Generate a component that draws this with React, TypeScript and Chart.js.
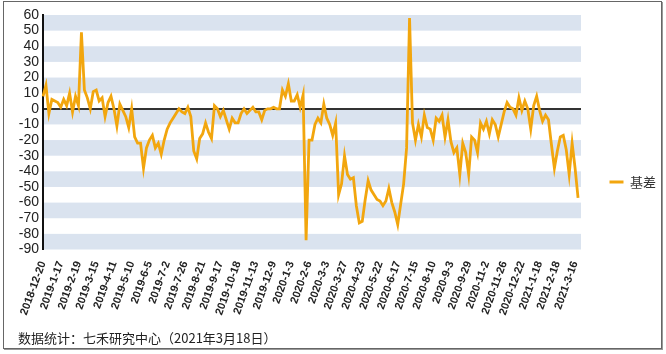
import React, { useEffect, useRef } from "react";
import { Chart, registerables } from "chart.js";

Chart.register(...registerables);

// ---- data ----
const seriesName = "基差";
const footerText = "数据统计：七禾研究中心（2021年3月18日）";

const tickDates = [
  "2018-12-20", "2019-1-17", "2019-2-19", "2019-3-15", "2019-4-11", "2019-5-10",
  "2019-6-5", "2019-7-2", "2019-7-26", "2019-8-21", "2019-9-17", "2019-10-18",
  "2019-11-13", "2019-12-9", "2020-1-3", "2020-2-6", "2020-3-3", "2020-3-27",
  "2020-4-23", "2020-5-22", "2020-6-17", "2020-7-15", "2020-8-10", "2020-9-3",
  "2020-9-29", "2020-11-2", "2020-11-26", "2020-12-22", "2021-1-18", "2021-2-18",
  "2021-3-16",
];
const pointsPerTick = 6;
const axisSlots = 183;

const yTicks = [60, 50, 40, 30, 20, 10, 0, -10, -20, -30, -40, -50, -60, -70, -80, -90];

// basis values, sampled every ~3 trading days
const basisFrom20181220 = [
  8, 15, -3, 6, 5, 4,
  1, 6, 2, 10, -2, 8,
  2, 49, 12, 7, 0, 11,
  12, 5, 7, -5, 4, 8,
  0, -11, 3, -1, -5, -12,
  0, -18, -22, -22, -38, -25,
];
const basisFrom20190605 = [
  -20, -17, -25, -22, -29, -20,
  -13, -9, -6, -3, 0, -2,
  -3, 1, -5, -27, -32, -19,
  -16, -9, -15, -19, 2, 0,
  -5, -1, -7, -13, -6, -9,
  -9, -3, 0, -3, -1, 1,
];
const basisFrom20191113 = [
  -2, -2, -7, -1, 0, 0,
  1, 0, 0, 12, 8, 16,
  5, 5, 9, 1, 9, -84,
  -20, -20, -10, -6, -9, 3,
  -6, -10, -17, -9, -55, -48,
  -30, -42, -45, -44, -62, -73,
];
const basisFrom20200423 = [
  -72, -58, -46, -52, -55, -58,
  -59, -62, -59, -51, -60, -66,
  -74, -61, -48, -25, 58, -9,
  -20, -10, -18, -4, -12, -13,
  -20, -6, -8, -4, -18, -7,
  -21, -28, -25, -42, -22, -28,
];
const basisFrom20200929 = [
  -42, -18, -20, -28, -9, -13,
  -8, -16, -7, -10, -18, -10,
  -2, 4, 1, 0, -4, 7,
  -1, 5, 0, -13, 2, 8,
  -1, -8, -4, -7, -23, -38,
  -27, -18, -17, -26, -42, -22,
  -38, -57,
];

// ---- styles ----
const LINE_COLOR = "rgb(242,166,14)";
const BAND_COLOR = "#dae3ef";

export default function App() {
  const ref = useRef<HTMLCanvasElement>(null);

  useEffect(() => {
    const values = [
      ...basisFrom20181220,
      ...basisFrom20190605,
      ...basisFrom20191113,
      ...basisFrom20200423,
      ...basisFrom20200929,
    ];
    const labels = Array.from({ length: axisSlots }, (_, i) =>
      i % pointsPerTick === 0 && tickDates[i / pointsPerTick] ? tickDates[i / pointsPerTick] : ""
    );
    const yMin = yTicks[yTicks.length - 1];
    const yMax = yTicks[0];
    const yStep = yTicks[0] - yTicks[1];

    const bandPlugin = {
      id: "bands",
      beforeDraw(chart: any) {
        const { ctx, chartArea, scales } = chart;
        const y = scales.y;
        ctx.save();
        ctx.fillStyle = BAND_COLOR;
        for (let v = yMin; v < yMax; v += yStep * 2) {
          const top = y.getPixelForValue(v + yStep);
          const bottom = y.getPixelForValue(v);
          ctx.fillRect(chartArea.left, top, chartArea.right - chartArea.left, bottom - top);
        }
        ctx.restore();
      },
    };

    const chart = new Chart(ref.current as HTMLCanvasElement, {
      type: "line",
      data: {
        labels,
        datasets: [
          {
            label: seriesName,
            data: values,
            borderColor: LINE_COLOR,
            backgroundColor: LINE_COLOR,
            borderWidth: 2.8,
            pointRadius: 0,
            tension: 0,
            fill: false,
          },
        ],
      },
      options: {
        animation: false,
        responsive: false,
        devicePixelRatio: 1,
        layout: { padding: { top: 15, left: 0, right: 0, bottom: 0 } },
        plugins: {
          legend: {
            position: "right",
            labels: {
              boxWidth: 14,
              boxHeight: 3,
              padding: 28.5,
              color: "#333",
              font: { family: '"Noto Sans CJK SC", sans-serif', size: 13 },
              generateLabels: (c: any) =>
                (Chart.defaults as any).plugins.legend.labels
                  .generateLabels(c)
                  .map((l: any) => ({ ...l, lineWidth: 0, fillStyle: LINE_COLOR })),
            },
          },
          tooltip: { enabled: false },
        },
        scales: {
          x: {
            type: "category",
            grid: { display: false },
            border: { display: false },
            ticks: {
              autoSkip: false,
              minRotation: 70,
              maxRotation: 70,
              padding: 2,
              color: "#222",
              font: { family: '"Liberation Sans", Arial, sans-serif', size: 11, weight: "bold" },
            },
            afterFit: (s: any) => {
              s.height = 99.5;
            },
          },
          y: {
            min: yMin,
            max: yMax,
            ticks: {
              stepSize: yStep,
              autoSkip: false,
              padding: 4,
              color: "#222",
              font: { family: '"Liberation Sans", Arial, sans-serif', size: 14 },
            },
            grid: {
              drawTicks: false,
              color: (c: any) => (c.tick && c.tick.value === 0 ? "#333" : "rgba(0,0,0,0)"),
              lineWidth: (c: any) => (c.tick && c.tick.value === 0 ? 2 : 0),
            },
            border: { display: true, color: "#111", width: 2 },
            afterFit: (s: any) => {
              s.width = 43;
            },
          },
        },
      },
      plugins: [bandPlugin],
    } as any);

    return () => chart.destroy();
  }, []);

  return (
    <div style={{ position: "fixed", left: 0, top: 0, width: 666, height: 354, background: "#fff" }}>
      <div
        style={{
          position: "absolute",
          left: 3,
          top: 1,
          width: 657,
          height: 346,
          border: "1px solid #666",
          boxShadow: "1px 1px 0 #999",
        }}
      />
      <canvas
        ref={ref}
        width={666}
        height={349}
        style={{ position: "absolute", left: 0, top: 0, width: 666, height: 349 }}
      />
      <div
        style={{
          position: "absolute",
          left: 18,
          top: 330,
          font: '13px/16px "Noto Sans CJK SC", sans-serif',
          color: "#222",
          whiteSpace: "nowrap",
        }}
      >
        {footerText}
      </div>
    </div>
  );
}
